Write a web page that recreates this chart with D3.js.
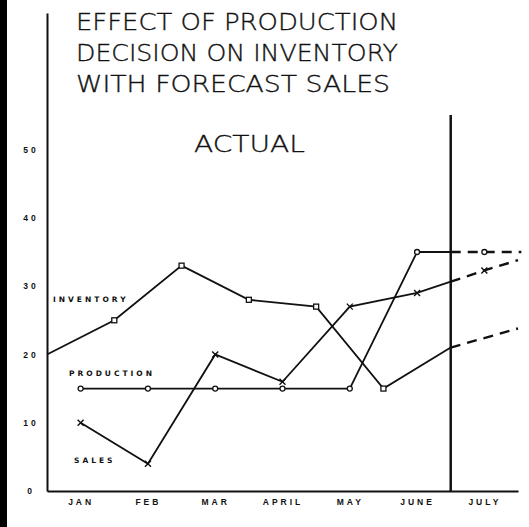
<!DOCTYPE html>
<meta charset="utf-8">
<style>
html, body { margin: 0; padding: 0; background: #fff; }
#edge { position: absolute; left: 0; top: 0; width: 7px; height: 527px; background: #000; }
svg { font-family: "DejaVu Sans", sans-serif; display: block; }
.title { font-size: 23px; font-weight: 200; fill: #111; stroke: #111; stroke-width: 0.35; }
.tick text { font-size: 8.5px; font-weight: bold; fill: #111; letter-spacing: 3px; }
.lbl { font-size: 7.5px; font-weight: bold; fill: #111; letter-spacing: 3px; }
.solid { fill: none; stroke: #111; stroke-width: 1.8; }
.dash { fill: none; stroke: #111; stroke-width: 2.4; stroke-dasharray: 10,7; }
</style>
<body><div id="edge"></div></body>
<script src="https://cdn.jsdelivr.net/npm/d3@7"></script>
<script>

// months are plotted at mid-month, inventory at month boundaries
var months = ["JAN", "FEB", "MAR", "APRIL", "MAY", "JUNE", "JULY"];
var yTicks = [0, 10, 20, 30, 40, 50];

var inventory = [20, 25, 33, 28, 27, 15, 21];       // start of each month .. end of june
var inventoryForecast = [21, 23.8];                   // end june -> end july
var production = [15, 15, 15, 15, 15, 35];            // jan..june
var productionForecast = [35, 35, 35];                // june edge, july, beyond
var sales = [10, 4, 20, 16, 27, 29];                  // jan..june
var salesForecast = [32.3, 33.8];                     // july, end of july

var titleLines = ["EFFECT OF PRODUCTION", "DECISION ON INVENTORY", "WITH FORECAST SALES"];

var W = 529, H = 527;
var svg = d3.select("body").append("svg").attr("width", W).attr("height", H);

var x = d3.scaleLinear().domain([0, 7]).range([47, 518]);
var y = d3.scaleLinear().domain([0, 70]).range([491, 13]);

var xAxis = d3.axisBottom(x)
    .tickValues(months.map(function(d, i) { return i + 0.5; }))
    .tickFormat(function(d, i) { return months[i]; })
    .tickSize(0).tickPadding(8);
var gx = svg.append("g").attr("transform", "translate(0," + y(0) + ")").call(xAxis);
gx.select(".domain").attr("stroke", "#111").attr("stroke-width", 2);

var yAxis = d3.axisLeft(y).tickValues(yTicks).tickSize(0).tickPadding(12);
var gy = svg.append("g").attr("transform", "translate(" + x(0) + ",0)").call(yAxis);
gy.select(".domain").attr("stroke", "#111").attr("stroke-width", 2);
gy.selectAll(".tick text").attr("text-anchor", "middle").attr("dx", "-4");

// actual / forecast divider
svg.append("line")
    .attr("x1", x(6)).attr("x2", x(6))
    .attr("y1", 115).attr("y2", y(0))
    .attr("stroke", "#111").attr("stroke-width", 2.5);

// titles
titleLines.forEach(function(t, i) {
  svg.append("text").attr("class", "title")
      .attr("x", 76).attr("y", 30 + i * 31)
      .attr("textLength", i == 2 ? 314 : 322).attr("lengthAdjust", "spacingAndGlyphs")
      .text(t);
});
svg.append("text").attr("class", "title")
    .attr("x", 194).attr("y", 152)
    .attr("textLength", 111).attr("lengthAdjust", "spacingAndGlyphs")
    .text("ACTUAL");

var line = d3.line().x(function(d) { return x(d[0]); }).y(function(d) { return y(d[1]); });

// inventory
var invPts = inventory.map(function(v, i) { return [i, v]; });
var invF = inventoryForecast.map(function(v, i) { return [6 + i, v]; });
svg.append("path").attr("class", "solid").attr("d", line(invPts));
svg.append("path").attr("class", "dash").attr("d", line(invF));
svg.selectAll(".invm").data(invPts.slice(1, 6)).enter().append("rect")
    .attr("x", function(d) { return x(d[0]) - 2.5; })
    .attr("y", function(d) { return y(d[1]) - 2.5; })
    .attr("width", 5).attr("height", 5)
    .attr("fill", "#fff").attr("stroke", "#111").attr("stroke-width", 1.3);

// production
var prodPts = production.map(function(v, i) { return [i + 0.5, v]; });
prodPts.push([6, production[5]]);
var prodF = [[6, productionForecast[0]], [6.5, productionForecast[1]], [7.05, productionForecast[2]]];
svg.append("path").attr("class", "solid").attr("d", line(prodPts.slice(0, 5))).attr("stroke-width", 2.6);
svg.append("path").attr("class", "solid").attr("d", line(prodPts.slice(4)));
svg.append("path").attr("class", "dash").attr("d", line(prodF));
svg.selectAll(".prodm").data(prodPts.slice(0, 6).concat([prodF[1]])).enter().append("circle")
    .attr("cx", function(d) { return x(d[0]); })
    .attr("cy", function(d) { return y(d[1]); })
    .attr("r", 2.5)
    .attr("fill", "#fff").attr("stroke", "#111").attr("stroke-width", 1.3);

// sales
var salesPts = sales.map(function(v, i) { return [i + 0.5, v]; });
var salesF = [[6.5, salesForecast[0]], [7, salesForecast[1]]];
var edge = sales[5] + (salesForecast[0] - sales[5]) * 0.5;
svg.append("path").attr("class", "solid").attr("d", line(salesPts.concat([[6, edge]])));
svg.append("path").attr("class", "dash").attr("d", line([[6, edge]].concat(salesF)));
svg.selectAll(".salesm").data(salesPts.concat([salesF[0]])).enter().append("path")
    .attr("d", function(d) {
      var cx = x(d[0]), cy = y(d[1]), s = 3;
      return "M" + (cx - s) + "," + (cy - s) + "L" + (cx + s) + "," + (cy + s) +
             "M" + (cx - s) + "," + (cy + s) + "L" + (cx + s) + "," + (cy - s);
    })
    .attr("stroke", "#111").attr("stroke-width", 1.4);

// series labels
svg.append("text").attr("class", "lbl").attr("x", 53).attr("y", 302).text("INVENTORY");
svg.append("text").attr("class", "lbl").attr("x", 69).attr("y", 376).text("PRODUCTION");
svg.append("text").attr("class", "lbl").attr("x", 74).attr("y", 463).text("SALES");

</script>
